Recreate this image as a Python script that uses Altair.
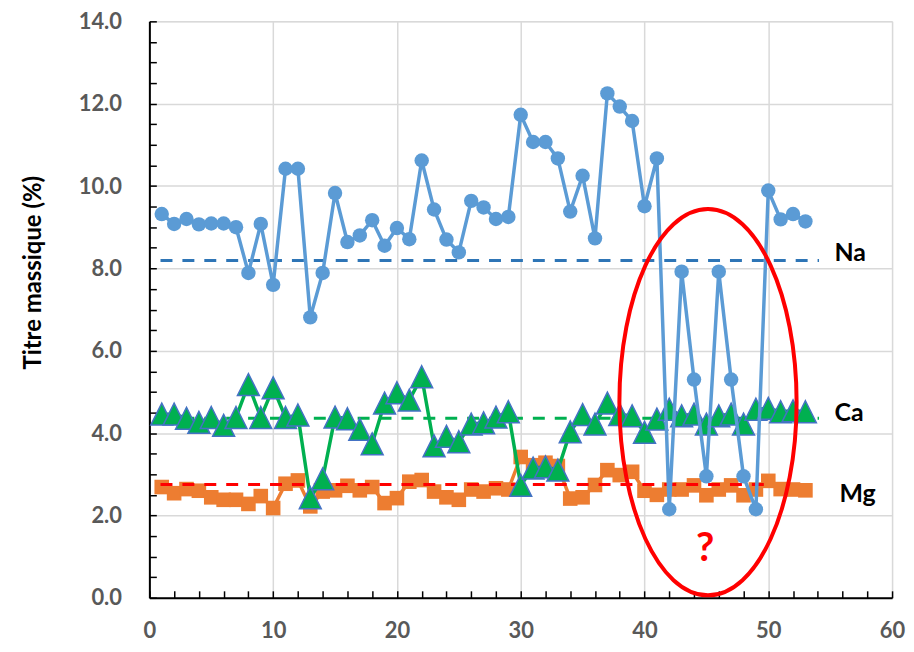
import altair as alt
import pandas as pd

# ---------------- data ----------------
sample = list(range(1, 54))
na = [9.32, 9.08, 9.20, 9.07, 9.09, 9.09, 9.00, 7.89, 9.08, 7.60,
      10.42, 10.42, 6.81, 7.89, 9.83, 8.64, 8.80, 9.17, 8.55, 8.98,
      8.71, 10.62, 9.43, 8.70, 8.39, 9.64, 9.48, 9.20, 9.25, 11.73,
      11.07, 11.07, 10.67, 9.38, 10.25, 8.73, 12.25, 11.93, 11.58, 9.51,
      10.67, 2.15, 7.92, 5.30, 2.95, 7.92, 5.30, 2.95, 2.15, 9.89,
      9.19, 9.32, 9.14]
ca = [4.46, 4.46, 4.36, 4.26, 4.38, 4.19, 4.38, 5.18, 4.38, 5.10,
      4.38, 4.44, 2.43, 2.89, 4.39, 4.35, 4.09, 3.74, 4.73, 4.98,
      4.80, 5.37, 3.69, 3.92, 3.79, 4.22, 4.25, 4.39, 4.52, 2.73,
      3.15, 3.18, 3.10, 4.03, 4.45, 4.22, 4.73, 4.45, 4.42, 4.02,
      4.34, 4.58, 4.42, 4.46, 4.22, 4.42, 4.46, 4.22, 4.58, 4.60,
      4.52, 4.54, 4.52]
mg = [2.69, 2.54, 2.64, 2.60, 2.44, 2.38, 2.38, 2.28, 2.47, 2.18,
      2.77, 2.85, 2.22, 2.58, 2.61, 2.72, 2.61, 2.69, 2.30, 2.42,
      2.82, 2.86, 2.58, 2.44, 2.38, 2.63, 2.58, 2.66, 2.63, 3.42,
      3.22, 3.28, 3.20, 2.41, 2.44, 2.74, 3.10, 2.98, 3.06, 2.60,
      2.50, 2.63, 2.63, 2.73, 2.49, 2.63, 2.73, 2.49, 2.63, 2.84,
      2.64, 2.63, 2.61]

mean_names = ["Na", "Ca", "Mg"]
mean_values = [8.19, 4.36, 2.75]
mean_start = [0.9, 0.9, 0.9]
mean_end = [54.1, 54.1, 50.1]

label_names = ["Na", "Ca", "Mg"]
label_x = [55.35, 55.35, 55.75]
label_y = [8.37, 4.49, 2.51]

zone_x = [45.13]
zone_y = [4.75]
question_x = [44.9]
question_y = [1.19]

x_ticks = list(range(0, 61, 10))
y_ticks = [0, 2, 4, 6, 8, 10, 12, 14]
x_minor = list(range(0, 61, 2))
y_minor = [v / 2 for v in range(0, 29)]

# ---------------- tables ----------------
df = pd.DataFrame({"sample": sample, "Na": na, "Ca": ca, "Mg": mg})
means = pd.DataFrame({"name": mean_names, "y": mean_values,
                      "x0": mean_start, "x1": mean_end})
labels = pd.DataFrame({"name": label_names, "x": label_x, "y": label_y})
zone = pd.DataFrame({"x": zone_x, "y": zone_y})
question = pd.DataFrame({"x": question_x, "y": question_y, "t": ["?"]})

FONT = "Lato"
xs = alt.Scale(domain=[0, 60], nice=False, zero=False)
ys = alt.Scale(domain=[0, 14], nice=False, zero=False)

main_x_axis = alt.Axis(values=x_ticks, grid=True, gridColor="#D9D9D9", gridWidth=1.5,
                       ticks=False, tickSize=0, domain=True, domainColor="#000000",
                       domainWidth=2, labelFont=FONT, labelFontSize=22,
                       labelFontWeight="bold", labelColor="#595959", labelFlush=False,
                       labelPadding=23, title=None, orient="bottom")
main_y_axis = alt.Axis(values=y_ticks, format=".1f", grid=True, gridColor="#D9D9D9",
                       gridWidth=1.5, ticks=False, tickSize=0, domain=True,
                       domainColor="#000000", domainWidth=2, labelFont=FONT,
                       labelFontSize=22, labelFontWeight="bold", labelColor="#595959",
                       labelFlush=False, labelPadding=28, title="Titre massique (%)",
                       titleFont=FONT, titleFontSize=24, titleFontWeight="bold",
                       titleColor="#000000", titleAngle=-90, titleX=-109, titleY=252,
                       titleAlign="center", titleBaseline="alphabetic", orient="left")
tick_x_axis = alt.Axis(values=x_minor, grid=False, ticks=True, tickSize=7,
                       tickColor="#000000", tickWidth=1.5, labels=False, domain=False,
                       title=None, orient="bottom", offset=-7)
tick_y_axis = alt.Axis(values=y_minor, grid=False, ticks=True, tickSize=7,
                       tickColor="#000000", tickWidth=1.5, labels=False, domain=False,
                       title=None, orient="left", offset=-7)

def X(field, axis=None):
    return alt.X(field, type="quantitative", scale=xs, axis=axis)

def Y(field, axis=None):
    return alt.Y(field, type="quantitative", scale=ys, axis=axis)

dash_colors = {"Na": "#2E75B6", "Ca": "#00B050", "Mg": "#FF0000"}

def mean_rule(name, xaxis=None, yaxis=None):
    return alt.Chart(means).transform_filter(alt.datum.name == name).mark_rule(
        color=dash_colors[name], strokeWidth=3, strokeDash=[12, 10]
    ).encode(x=X("x0:Q", xaxis), x2="x1:Q", y=Y("y:Q", yaxis))

green_dash = mean_rule("Ca", main_x_axis, main_y_axis)

mg_line = alt.Chart(df).mark_line(color="#ED7D31", strokeWidth=3.5).encode(
    x=X("sample:Q"), y=Y("Mg:Q"))
mg_pts = alt.Chart(df).mark_point(shape="square", size=215, filled=True,
                                  color="#ED7D31", opacity=1).encode(
    x=X("sample:Q"), y=Y("Mg:Q"))

red_dash = mean_rule("Mg", tick_x_axis, tick_y_axis)

ca_line = alt.Chart(df).mark_line(color="#00B050", strokeWidth=3.5).encode(
    x=X("sample:Q"), y=Y("Ca:Q"))
ca_pts = alt.Chart(df).mark_point(shape="M 0 -1 L 1 1 L -1 1 Z", size=484, filled=True,
                                  fill="#00B050", stroke="#4472C4", strokeWidth=1.5,
                                  opacity=1, fillOpacity=1, strokeOpacity=1).encode(
    x=X("sample:Q"), y=Y("Ca:Q"))

blue_dash = mean_rule("Na")

na_line = alt.Chart(df).mark_line(color="#5B9BD5", strokeWidth=3.5).encode(
    x=X("sample:Q"), y=Y("Na:Q"))
na_pts = alt.Chart(df).mark_point(shape="circle", size=210, filled=True,
                                  color="#5B9BD5", opacity=1).encode(
    x=X("sample:Q"), y=Y("Na:Q"))

text = alt.Chart(labels).mark_text(align="left", baseline="middle", font=FONT,
                                   fontSize=25, fontWeight="bold", color="#000000").encode(
    x=X("x:Q"), y=Y("y:Q"), text="name:N")

ellipse = alt.Chart(zone).mark_point(
    shape="M -0.4588 0 A 0.4588 1 0 1 1 0.4588 0 A 0.4588 1 0 1 1 -0.4588 0 Z",
    size=150544, filled=False, color="#FF0000", strokeWidth=4, opacity=1).encode(
    x=X("x:Q"), y=Y("y:Q"))

qmark = alt.Chart(question).mark_text(align="center", baseline="middle", font=FONT,
                                      fontSize=40, fontWeight="bold", color="#FF0000").encode(
    x=X("x:Q"), y=Y("y:Q"), text="t:N")

chart = alt.layer(
    green_dash, mg_line, mg_pts, red_dash, ca_line, ca_pts,
    blue_dash, na_line, na_pts, text, ellipse, qmark
).resolve_axis(x="independent", y="independent").properties(
    width=746, height=579,
    autosize=alt.AutoSizeParams(type="none"),
    padding={"left": 142, "top": 12, "right": 14, "bottom": 44},
).configure_view(fill="#FBE5D6", stroke="#D9D9D9", strokeWidth=1.5).configure(
    background="#FFFFFF")

chart.save("out.html", embed_options={"renderer": "svg", "actions": False})
